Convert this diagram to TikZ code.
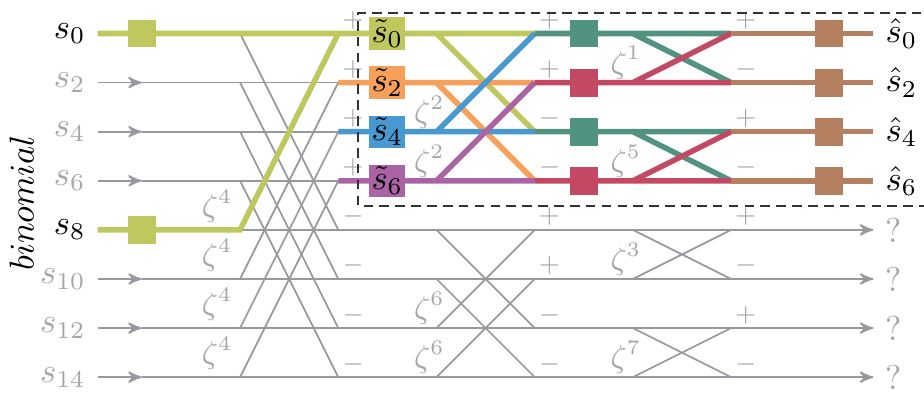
\documentclass[tikz,border=0pt]{standalone}
\usepackage{amsmath}
\usepackage{xcolor}
\usepackage{tikz}
\usetikzlibrary{arrows}
\definecolor{bfgreen}{RGB}{190,200,95}
\definecolor{bforange}{RGB}{246,160,92}
\definecolor{bfblue}{RGB}{72,152,210}
\definecolor{bfpurple}{RGB}{170,100,165}
\definecolor{bfteal}{RGB}{82,146,128}
\definecolor{bfred}{RGB}{195,72,98}
\definecolor{bfbrown}{RGB}{180,128,95}
\definecolor{bfgray}{RGB}{152,153,158}
\definecolor{txtgray}{RGB}{165,167,172}
\tikzset{
  wire/.style={bfgray, line width=0.5pt},
  fatwire/.style={line width=1.6pt},
  sqbox/.style={minimum size=8.1pt, inner sep=0pt},
  tbox/.style={inner sep=0.6pt},
  sgn/.style={txtgray, font=\scriptsize, inner sep=1pt, above right},
  twid/.style={txtgray, font=\small, above left, inner sep=2pt},
  twidr/.style={twid, xshift=4.6pt, yshift=-1.2pt},
}

\begin{document}
\begin{tikzpicture}[scale=.5, >=stealth']
\useasboundingbox (-1.89,0.682) rectangle (16.93,-7.316);
% columns of the three butterfly stages
\foreach \r in {0,...,7} {
 \coordinate (in\r) at (0.1,-\r);
 \coordinate (m\r) at (1,-\r);
 \coordinate (a\r) at (3,-\r);
 \coordinate (b\r) at (5,-\r);
 \coordinate (c\r) at (7,-\r);
 \coordinate (d\r) at (9,-\r);
 \coordinate (e\r) at (11,-\r);
 \coordinate (f\r) at (13,-\r);
 \coordinate (out\r) at (15.9,-\r);
}
% gray wires
\foreach \r in {1,2,3,5,6,7} {
 \draw[wire,->] (in\r) -- (m\r);
}
\foreach \r in {0,...,7} {
 \draw[wire] (m\r) -- (f\r);
}
\foreach \r in {0,...,3} {
 \draw[wire] (f\r) -- (out\r);
}
\foreach \r in {4,...,7} {
 \draw[wire,->] (f\r) -- (out\r);
}
\foreach \r in {0,...,3} {
 \pgfmathtruncatemacro\s{\r+4}
 \draw[wire] (a\r) -- (b\s) (a\s) -- (b\r);
}
\foreach \r/\s in {0/2,1/3,4/6,5/7} {
 \draw[wire] (c\r) -- (d\s) (c\s) -- (d\r);
}
\foreach \r/\s in {0/1,2/3,4/5,6/7} {
 \draw[wire] (e\r) -- (f\s) (e\s) -- (f\r);
}
% twiddle factors
\foreach \r in {4,...,7} {
 \node[twid] (w1\r) at (a\r) {$\zeta^4$};
}
\foreach \r/\k in {2/2,3/2,6/6,7/6} {
 \node[twidr] (w2\r) at (c\r) {$\zeta^{\k}$};
}
\foreach \r/\k in {1/1,3/5,5/3,7/7} {
 \node[twidr] (w3\r) at (e\r) {$\zeta^{\k}$};
}
% signs
\foreach \r in {0,...,3} {
 \node[sgn] (p1\r) at (b\r) {$+$};
}
\foreach \r in {4,...,7} {
 \node[sgn] (n1\r) at (b\r) {$-$};
}
\foreach \r in {0,1,4,5} {
 \node[sgn] (p2\r) at (d\r) {$+$};
}
\foreach \r in {2,3,6,7} {
 \node[sgn] (n2\r) at (d\r) {$-$};
}
\foreach \r in {0,2,4,6} {
 \node[sgn] (p3\r) at (f\r) {$+$};
}
\foreach \r in {1,3,5,7} {
 \node[sgn] (n3\r) at (f\r) {$-$};
}
% the binomial path
\draw[fatwire,bfgreen] (in0) -- (c0) -- (d0) (c0) -- (d2);
\draw[fatwire,bfgreen] (in4) -- (a4) -- (b0);
\draw[fatwire,bforange] (b1) -- (c1) -- (d1) (c1) -- (d3);
\draw[fatwire,bfblue] (b2) -- (c2) -- (d2) (c2) -- (d0);
\draw[fatwire,bfpurple] (b3) -- (c3) -- (d3) (c3) -- (d1);
\draw[fatwire,bfteal] (d0) -- (e0) -- (f0) (e0) -- (f1);
\draw[fatwire,bfteal] (d2) -- (e2) -- (f2) (e2) -- (f3);
\draw[fatwire,bfred] (d1) -- (e1) -- (f1) (e1) -- (f0);
\draw[fatwire,bfred] (d3) -- (e3) -- (f3) (e3) -- (f2);
\foreach \r in {0,...,3} {
 \draw[fatwire,bfbrown] (f\r) -- (out\r);
}
\node[sqbox,fill=bfgreen] (q0) at (m0) {};
\node[sqbox,fill=bfgreen] (q4) at (m4) {};
\node[tbox,fill=bfgreen] (t0) at (6,0) {$\tilde{s}_0$};
\node[tbox,fill=bforange] (t1) at (6,-1) {$\tilde{s}_2$};
\node[tbox,fill=bfblue] (t2) at (6,-2) {$\tilde{s}_4$};
\node[tbox,fill=bfpurple] (t3) at (6,-3) {$\tilde{s}_6$};
\foreach \r/\col in {0/bfteal,1/bfred,2/bfteal,3/bfred} {
 \node[sqbox,fill=\col] (u\r) at (10,-\r) {};
 \node[sqbox,fill=bfbrown] (v\r) at (15,-\r) {};
}
% labels
\foreach \r in {0,...,7} {
 \pgfmathtruncatemacro\k{2*\r}
 \ifnum\r=0 \def\lc{black}\else\ifnum\r=4 \def\lc{black}\else\def\lc{txtgray}\fi\fi
 \node[left,text=\lc] (l\r) at (in\r) {$s_{\k}$};
}
\foreach \r in {0,...,3} {
 \pgfmathtruncatemacro\k{2*\r}
 \node[right] (h\r) at (out\r) {$\hat{s}_{\k}$};
}
\foreach \r in {4,...,7} {
 \node[right,text=txtgray] (h\r) at (out\r) {?};
}
\node[rotate=90] (bin) at (-1.45,-3.45) {$binomial$};
\draw[black!80, line width=0.5pt, dash pattern=on 2.8pt off 1.8pt] (17.2,0.42) -- (5.4,0.42) -- (5.4,-3.51) -- (17.2,-3.51);
\end{tikzpicture}
\end{document}
